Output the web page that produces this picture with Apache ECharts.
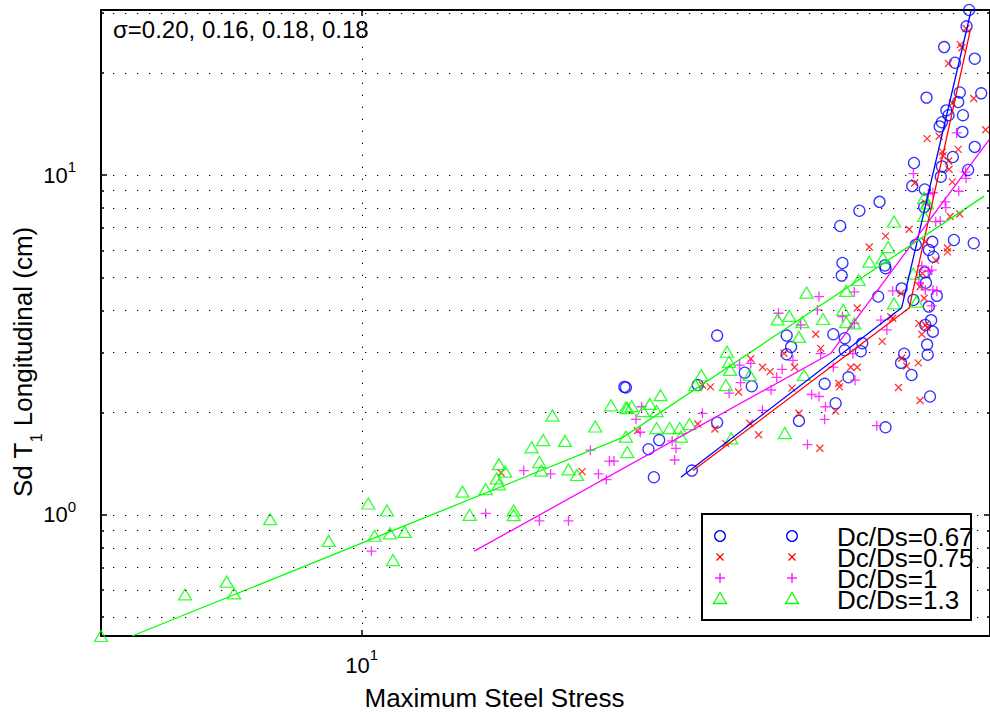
<!DOCTYPE html>
<html><head><meta charset="utf-8">
<script src="https://cdn.jsdelivr.net/npm/echarts@6/dist/echarts.min.js"></script>
<style>html,body{margin:0;padding:0;background:#fff}#c{width:990px;height:714px}</style>
</head><body><div id="c"></div><script>
// ---- data (x: Maximum Steel Stress, y: Sd T1 Longitudinal (cm)) ----
const xMin = 4.51, xMax = 68.1, yMin = 0.44, yMax = 30.6;
const xTicks = [10];
const yMajorTicks = [1, 10];
const yMinorTicks = [0.5,0.6,0.7,0.8,0.9,2,3,4,5,6,7,8,9,20,30];
const legendLabels = ['Dc/Ds=0.67','Dc/Ds=0.75','Dc/Ds=1','Dc/Ds=1.3'];
const sigmaText = 'σ=0.20, 0.16, 0.18, 0.18';
const xTitle = 'Maximum Steel Stress';

const circles067 = [[24.4,1.29],[22.4,2.37],[22.3,2.38],[24.8,1.66],[24.0,1.56],[27.4,1.35],[27.9,2.41],[29.6,1.87],[29.6,3.37],[32.2,2.62],[32.9,2.39],[36.6,3.37],[37.1,3.12],[36.6,2.97],[38.0,1.89],[41.1,2.43],[42.5,2.13],[42.2,3.40],[43.7,3.31],[43.7,3.05],[46.1,3.20],[45.9,3.03],[44.2,2.54],[43.4,5.51],[43.3,5.06],[48.4,4.39],[49.4,5.42],[49.5,5.32],[52.0,4.64],[52.4,2.98],[51.9,2.80],[53.6,2.58],[53.9,4.29],[49.5,1.81],[56.7,2.23],[56.2,3.17],[56.3,2.96],[56.9,3.74],[57.2,3.46],[55.9,3.62],[56.0,4.82],[55.8,5.17],[56.5,4.10],[57.9,4.41],[57.3,5.75],[56.5,6.02],[54.3,6.23],[57.1,6.36],[61.0,6.44],[64.8,6.30],[63.9,30.6],[63.4,27.4],[59.2,23.8],[61.2,21.4],[65.0,22.0],[66.3,17.4],[62.1,17.5],[61.8,16.4],[56.1,16.9],[59.6,15.5],[60.0,15.0],[58.8,14.3],[58.4,13.9],[62.7,15.0],[62.6,13.4],[65.0,12.1],[60.8,11.3],[58.8,10.6],[54.0,10.85],[58.6,9.89],[63.7,10.35],[53.7,9.28],[55.8,9.07],[48.6,8.34],[45.7,7.85],[43.1,7.08],[55.7,8.05]];
const crosses075 = [[15.3,1.33],[19.6,1.34],[23.2,1.77],[27.9,1.85],[28.3,2.41],[29.0,2.38],[32.8,2.88],[34.0,2.72],[34.8,2.64],[31.6,2.30],[37.5,2.72],[36.3,2.99],[40.6,3.09],[40.0,3.40],[45.4,4.06],[47.1,6.14],[37.2,2.36],[44.5,2.72],[45.4,2.72],[42.9,2.44],[43.0,2.38],[42.5,2.02],[38.0,1.99],[40.5,1.57],[33.6,1.72],[32.7,1.86],[29.4,1.79],[30.4,1.62],[49.0,3.24],[51.5,2.37],[52.0,2.89],[52.8,2.74],[54.7,2.80],[55.0,2.17],[50.3,3.83],[50.6,3.79],[54.8,3.66],[55.3,3.40],[55.9,3.62],[56.2,3.56],[55.7,4.34],[55.0,4.69],[55.4,5.13],[51.9,4.49],[59.8,5.94],[55.9,6.36],[57.7,5.62],[63.3,27.0],[62.2,24.2],[62.5,23.7],[60.0,21.3],[64.8,16.8],[56.2,12.8],[58.3,13.0],[58.9,11.7],[59.0,11.4],[60.0,11.0],[61.8,11.9],[60.1,10.4],[60.7,9.55],[54.1,9.48],[67.2,13.6],[53.2,6.93],[49.5,6.61],[55.9,8.28],[60.3,7.55],[62.1,7.68],[59.8,6.10],[60.7,16.3]];
const plus1 = [[10.3,0.782],[14.6,1.01],[17.2,0.960],[18.8,0.960],[21.1,1.27],[16.4,1.35],[17.8,1.32],[20.1,1.55],[21.3,1.44],[21.6,1.44],[20.6,1.32],[23.1,1.91],[23.4,1.75],[23.5,2.08],[25.8,1.65],[26.1,1.57],[26.0,1.45],[28.3,1.99],[31.7,2.76],[31.8,2.45],[30.7,2.28],[32.8,2.79],[35.5,2.54],[36.1,2.68],[34.9,2.33],[34.0,2.03],[37.3,2.85],[38.2,3.62],[35.7,3.92],[40.4,4.39],[40.2,4.01],[40.6,2.98],[43.4,3.83],[45.0,3.66],[45.0,4.53],[42.2,2.72],[44.8,2.98],[41.2,2.08],[40.4,2.23],[39.5,2.26],[45.1,2.49],[41.1,1.91],[39.0,1.61],[48.2,1.83],[48.8,3.74],[49.7,3.50],[50.6,4.56],[55.9,4.59],[57.2,4.59],[57.9,4.56],[57.0,4.12],[55.3,5.40],[56.4,5.21],[57.0,5.25],[54.8,4.82],[61.5,13.3],[53.9,10.1],[63.2,10.2],[63.3,9.78],[61.9,8.96],[59.4,8.34],[59.5,8.02],[57.2,8.87],[57.7,7.29],[58.5,7.32],[56.4,8.81]];
const tri13 = [[4.51,0.440],[5.83,0.583],[6.62,0.636],[6.77,0.587],[7.56,0.971],[9.04,0.838],[10.2,1.08],[10.8,1.03],[10.4,0.868],[10.9,0.882],[11.0,0.736],[11.4,0.891],[13.6,1.17],[14.6,1.19],[15.2,1.23],[13.9,1.00],[15.9,1.03],[15.9,0.998],[15.2,1.41],[15.5,1.34],[15.1,1.28],[16.8,1.58],[17.4,1.66],[17.2,1.43],[17.3,1.35],[17.9,1.96],[18.6,1.65],[18.8,1.36],[19.3,1.31],[20.4,1.82],[21.4,2.10],[22.4,2.07],[22.5,2.06],[22.8,2.09],[24.1,2.12],[24.9,2.25],[23.6,2.02],[24.6,2.02],[22.4,1.70],[22.5,1.53],[24.6,1.80],[25.6,1.80],[26.4,1.80],[27.2,1.85],[26.5,1.70],[27.7,2.41],[28.2,2.58],[30.4,2.41],[30.7,2.82],[30.5,3.02],[30.8,2.67],[32.7,2.58],[35.6,3.76],[36.9,3.85],[38.4,3.69],[38.0,3.34],[40.9,3.77],[38.9,4.51],[43.5,4.01],[45.0,3.66],[43.9,3.69],[43.9,4.56],[45.6,4.91],[47.1,5.56],[49.1,5.69],[49.9,6.14],[50.8,4.19],[53.9,5.13],[54.4,4.24],[38.6,2.58],[36.4,1.74],[30.9,1.68],[55.7,8.57],[55.7,7.58],[50.8,7.30],[56.2,8.25]];

const fit067 = [[26.5,1.29],[52.0,4.07],[64.3,30.6]];
const fit075 = [[27.5,1.35],[53.2,4.06],[64.2,27.0]];
const fit1   = [[14.1,0.782],[41.9,2.99],[67.9,12.7]];
const fit13  = [[4.96,0.44],[22.2,1.69],[66.9,8.67]];

// ---- chart ----
const FONT = '"Liberation Sans", Arial, Helvetica, sans-serif';
const BLUE = '#0000ff', RED = '#ff0000', MAG = '#ff00ff', GRN = '#00ff00';
const chart = echarts.init(document.getElementById('c'), null, {renderer: 'svg'});

function supFmt(v){ const e = Math.round(Math.log10(v)); return '{b|10}{s|' + e + '}'; }
function richSup(pad){ return { b:{fontSize:22, fontFamily:FONT, color:'#000'}, s:{fontSize:15, fontFamily:FONT, color:'#000', padding:[0,0,pad,0]} }; }

const axLine = {show:true, onZero:false, lineStyle:{color:'#000', width:2}};
function xAx(pos, labels){
  return {type:'log', logBase:10, min:xMin, max:xMax, position:pos, axisLine:axLine,
    axisTick:{show:true, inside:true, length:6, customValues:xTicks, lineStyle:{color:'#000', width:1.5}},
    axisLabel:{show:labels, customValues:xTicks, formatter:supFmt, rich:richSup(21), margin:11},
    splitLine:{show:false}, minorTick:{show:false}, minorSplitLine:{show:false}};
}
function yAx(pos, major, showLine, labels){
  return {type:'log', logBase:10, min:yMin, max:yMax, position:pos,
    axisLine: showLine ? axLine : {show:false},
    axisTick:{show:true, inside:true, length: major?6:3, customValues: major?yMajorTicks:yMinorTicks, lineStyle:{color:'#000', width:1.5}},
    axisLabel:{show:labels, customValues:yMajorTicks, formatter:supFmt, rich:richSup(17), margin:25},
    splitLine:{show:false}, minorTick:{show:false}, minorSplitLine:{show:false}};
}

const gridLines = yMajorTicks.concat(yMinorTicks).map(v => ({yAxis:v})).concat(xTicks.map(v => ({xAxis:v})));

const X_PATH = 'path://M0,0L10,10M10,0L0,10';
const PLUS_PATH = 'path://M5,0L5,10M0,5L10,5';
function sc(name, data, symbol, size, color){
  return {type:'scatter', name, data, symbol, symbolSize:size, clip:false, z:3,
    itemStyle:{color:'none', borderColor:color, borderWidth:1.3}, emphasis:{disabled:true}};
}
function fl(data, color){
  return {type:'line', data, showSymbol:false, symbol:'none', clip:true, z:4,
    lineStyle:{color, width:1.3}, emphasis:{disabled:true}};
}

// legend graphics
const rowY = [536, 557, 578, 598];
const textY = [537, 558, 579, 600];
const legendEls = [{type:'rect', shape:{x:702, y:514, width:269, height:106}, style:{fill:'#fff', stroke:'#000', lineWidth:2}, z:100}];
function mk(kind, cx, cy){
  const s = {fill:'none', lineWidth:1.3};
  if (kind === 0) return [{type:'circle', shape:{cx, cy, r:5.3}, style:Object.assign({stroke:BLUE}, s), z:101}];
  if (kind === 1) return [{type:'line', shape:{x1:cx-3.5, y1:cy-3.5, x2:cx+3.5, y2:cy+3.5}, style:Object.assign({stroke:RED}, s), z:101},
                          {type:'line', shape:{x1:cx+3.5, y1:cy-3.5, x2:cx-3.5, y2:cy+3.5}, style:Object.assign({stroke:RED}, s), z:101}];
  if (kind === 2) return [{type:'line', shape:{x1:cx-5, y1:cy, x2:cx+5, y2:cy}, style:Object.assign({stroke:MAG}, s), z:101},
                          {type:'line', shape:{x1:cx, y1:cy-5, x2:cx, y2:cy+5}, style:Object.assign({stroke:MAG}, s), z:101}];
  return [{type:'polygon', shape:{points:[[cx, cy-5.5],[cx-6.5, cy+5.5],[cx+6.5, cy+5.5]]}, style:Object.assign({stroke:GRN}, s), z:101}];
}
legendLabels.forEach((lab, i) => {
  legendEls.push(...mk(i, 720, rowY[i]), ...mk(i, 792, rowY[i]));
  legendEls.push({type:'text', x:837, y:textY[i], z:102, style:{text:lab, font:'26px ' + FONT, fill:'#000', align:'left', verticalAlign:'middle', textAlign:'left', textVerticalAlign:'middle'}});
});

const option = {
  animation:false,
  backgroundColor:'#fff',
  grid:{left:101, top:10, width:890, height:626, containLabel:false},
  xAxis:[xAx('bottom', true), xAx('top', false)],
  yAxis:[yAx('left', true, true, true), yAx('left', false, false, false), yAx('right', true, true, false), yAx('right', false, false, false)],
  series:[
    {type:'line', data:[], z:1, silent:true,
      markLine:{silent:true, symbol:['none','none'], animation:false, label:{show:false},
        lineStyle:{color:'#000', width:1, type:[1.3, 10.7], opacity:1}, emphasis:{disabled:true}, data:gridLines}},
    sc(legendLabels[0], circles067, 'circle', 11, BLUE),
    sc(legendLabels[1], crosses075, X_PATH, 7, RED),
    sc(legendLabels[2], plus1, PLUS_PATH, 10, MAG),
    sc(legendLabels[3], tri13, 'triangle', [13, 11], GRN),
    fl(fit067, BLUE), fl(fit075, RED), fl(fit1, MAG), fl(fit13, GRN)
  ],
  graphic:[
    {type:'text', x:113, y:29, z:100, style:{text:sigmaText, font:'24px ' + FONT, fill:'#000', align:'left', verticalAlign:'middle', textAlign:'left', textVerticalAlign:'middle'}},
    {type:'text', x:494.5, y:698, z:100, style:{text:xTitle, font:'26px ' + FONT, fill:'#000', align:'center', verticalAlign:'middle', textAlign:'center', textVerticalAlign:'middle'}},
    {type:'text', x:23, y:362, rotation:Math.PI/2, z:100, style:{text:'{a|Sd T}{s|1}{a| Longitudinal (cm)}', fill:'#000', align:'center', verticalAlign:'middle', textAlign:'center', textVerticalAlign:'middle',
      rich:{a:{fontSize:26, fontFamily:FONT, color:'#000'}, s:{fontSize:16, fontFamily:FONT, color:'#000', padding:[26,0,0,0]}}}}
  ].concat(legendEls)
};
chart.setOption(option);
</script></body></html>
